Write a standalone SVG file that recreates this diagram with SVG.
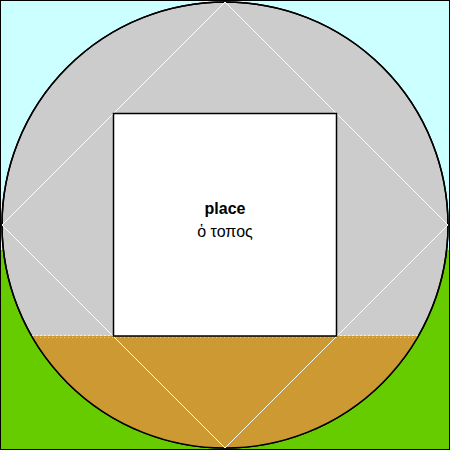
<svg xmlns="http://www.w3.org/2000/svg" width="450" height="450" viewBox="0 0 450 450">
<style>
.t{font-family:"Liberation Sans",Arial,sans-serif;font-size:16px;text-anchor:middle;fill:#000}
.d{stroke:#ffffff;stroke-width:1;fill:none}
</style>
<rect x="0" y="0" width="450" height="250" fill="#ccffff"/>
<rect x="0" y="250" width="450" height="200" fill="#66cc00"/>
<g id="circle">
<circle cx="225" cy="225" r="223" fill="#cccccc" stroke="#000" stroke-width="1.5"/>
</g>
<g id="ground">
<path d="M31.6,336 L418.4,336 A223,223 0 0 1 31.6,336 Z" fill="#cc9933" stroke="none"/>
<line x1="32" y1="335.5" x2="418" y2="335.5" stroke="#eeeeee" stroke-width="1" stroke-dasharray="2,2"/>
<line x1="32" y1="337.5" x2="418" y2="337.5" stroke="#ffcc33" stroke-width="1" stroke-dasharray="1,3"/>
<circle cx="225" cy="225" r="223" fill="none" stroke="#000" stroke-width="1.5"/>
</g>
<g id="connectors">
<path class="d" d="M225,2 L448,225 L225,448 L2,225 Z"/>
</g>
<g id="place">
<rect x="113.5" y="113.5" width="223" height="222.5" fill="#ffffff" stroke="#000" stroke-width="1.5"/>
<text class="t" x="225" y="214" font-weight="bold">place</text>
<text class="t" x="225" y="237">ὁ τοπος</text>
</g>
<rect x="0.5" y="0.5" width="449" height="449" fill="none" stroke="#000" stroke-width="1"/>
</svg>
